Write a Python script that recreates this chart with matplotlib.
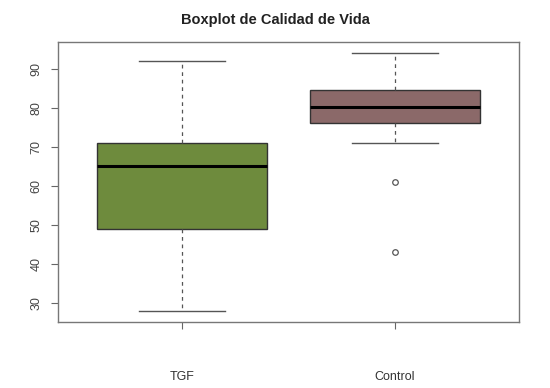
import matplotlib
matplotlib.use('Agg')
import matplotlib.pyplot as plt

# valores
grupos = ['TGF', 'Control']
colores = ['#6E8B3D', '#8B6969']
whislo = [28, 71]
q1 = [49, 76.2]
mediana = [65, 80.2]
q3 = [71, 84.5]
whishi = [92, 94.2]
atipicos = [[], [61, 43]]

stats = []
for i in range(len(grupos)):
    stats.append({
        'label': grupos[i],
        'whislo': whislo[i], 'q1': q1[i], 'med': mediana[i],
        'q3': q3[i], 'whishi': whishi[i], 'fliers': atipicos[i],
    })

plt.rcParams['font.family'] = ['Liberation Sans', 'DejaVu Sans']
fig = plt.figure(figsize=(5.5, 3.88), dpi=100)
ax = fig.add_axes([58 / 550, 1 - 322 / 388, 461 / 550, 280 / 388])

bp = ax.bxp(stats, positions=[1, 2], widths=0.8, patch_artist=True,
            boxprops=dict(edgecolor='#333333', linewidth=1),
            medianprops=dict(color='black', linewidth=2.2),
            whiskerprops=dict(color='#555555', linestyle=(0, (3, 3)), linewidth=0.9),
            capprops=dict(color='#555555', linewidth=1),
            capwidths=0.4,
            flierprops=dict(marker='o', markersize=4, markerfacecolor='white',
                            markeredgecolor='#555555', markeredgewidth=0.9))
for patch, c in zip(bp['boxes'], colores):
    patch.set_facecolor(c)

ax.set_xlim(0.418, 2.582)
ax.set_ylim(25.1, 96.9)
ax.set_yticks([30, 40, 50, 60, 70, 80, 90])
ax.set_yticklabels(['30', '40', '50', '60', '70', '80', '90'], rotation=90,
                   va='center', color='#444444', fontsize=9)
ax.set_xticks([1, 2])
ax.set_xticklabels(grupos, color='#333333', fontsize=9)
ax.tick_params(axis='x', length=5, pad=30, color='#666666')
ax.tick_params(axis='y', length=5, pad=6, color='#666666')
for s in ax.spines.values():
    s.set_color('#777777')
    s.set_linewidth(1)

fig.suptitle('Boxplot de Calidad de Vida', y=1 - 13 / 388, fontsize=10.5,
             fontweight='bold', color='#222222')

fig.savefig('out.png', dpi=100)
